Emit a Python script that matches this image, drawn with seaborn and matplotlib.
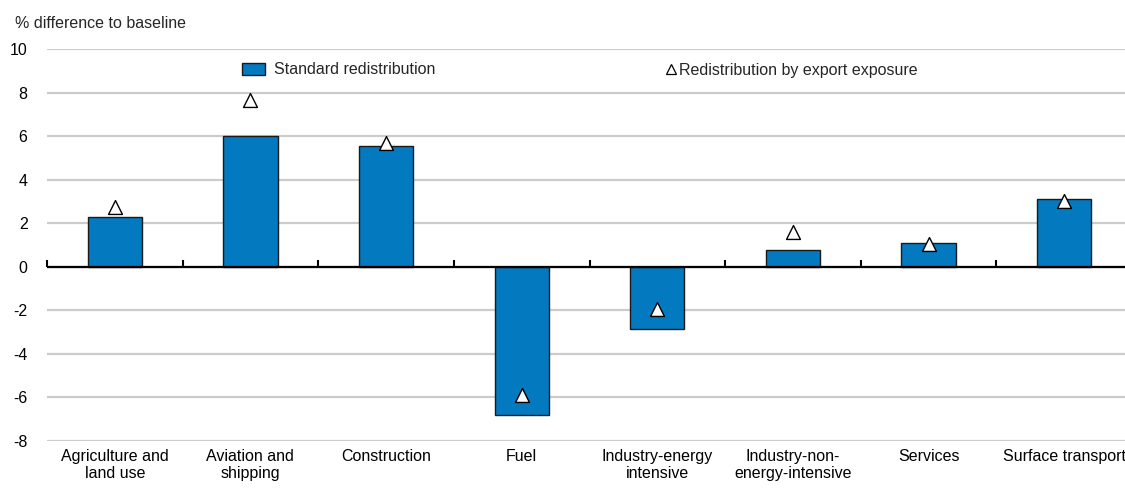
import matplotlib
matplotlib.use("Agg")
import matplotlib.pyplot as plt
from matplotlib.lines import Line2D
from matplotlib.patches import Patch
from matplotlib import font_manager
import seaborn as sns

sectors = ["Agriculture and\nland use", "Aviation and\nshipping", "Construction", "Fuel",
           "Industry-energy\nintensive", "Industry-non-\nenergy-intensive", "Services",
           "Surface transport"]
standard = [2.28, 6.0, 5.56, -6.8, -2.86, 0.75, 1.08, 3.12]
export_exposure = [2.76, 7.68, 5.68, -5.91, -1.95, 1.61, 1.03, 3.04]
y_ticks = [-8, -6, -4, -2, 0, 2, 4, 6, 8, 10]

names = {f.name for f in font_manager.fontManager.ttflist}
narrow = "Liberation Sans Narrow" in names

sns.set_style("white")
plt.rcParams["font.family"] = (["Liberation Sans Narrow"] if narrow else []) + ["Liberation Sans", "DejaVu Sans"]
plt.rcParams["axes.unicode_minus"] = False
fs = 13.8 if narrow else 11.5

fig = plt.figure(figsize=(11.25, 4.9), dpi=100)
ax = fig.add_axes([47 / 1125, 49 / 490, 1085 / 1125, 392 / 490])

blue = "#0379bf"
sns.barplot(x=sectors, y=standard, order=sectors, color=blue, width=0.4,
            edgecolor="#1a1a1a", linewidth=1, saturation=1, ax=ax, zorder=3)
sns.stripplot(x=sectors, y=export_exposure, order=sectors, jitter=False, marker="^",
              size=10, color="white", edgecolor="black", linewidth=1, ax=ax, zorder=4)

ax.set_xlim(-0.5, len(sectors) - 0.5)
ax.set_ylim(-8, 10)
ax.set_yticks(y_ticks)
ax.yaxis.grid(True, color="#cccccc", linewidth=1.6)
ax.set_axisbelow(True)
for s in ax.spines.values():
    s.set_visible(False)
ax.tick_params(axis="both", length=0, labelsize=fs, colors="black")
ax.tick_params(axis="y", pad=14)
ax.tick_params(axis="x", pad=6)
for lab in ax.get_xticklabels():
    lab.set_linespacing(1.1)

# zero line with small ticks at category boundaries
ax.axhline(0, color="black", linewidth=1.6, zorder=5)
zero_ax = ax.secondary_xaxis((0 - (-8)) / 18)
zero_ax.set_xticks([i + 0.5 for i in range(-1, len(sectors))])
zero_ax.set_xticklabels([])
zero_ax.tick_params(direction="in", length=5, width=1.5, color="black")
zero_ax.spines["bottom"].set_visible(False)
zero_ax.spines["top"].set_visible(False)

fig.text(15 / 1125, 1 - 24 / 490, "% difference to baseline", fontsize=fs, va="center")

leg1 = ax.legend(handles=[Patch(facecolor=blue, edgecolor="#1a1a1a", linewidth=1)],
                 labels=["Standard redistribution"], loc="center left",
                 bbox_to_anchor=(242 / 1125, 1 - 70 / 490), bbox_transform=fig.transFigure,
                 frameon=False, fontsize=fs, borderpad=0, borderaxespad=0,
                 handlelength=1.45, handleheight=0.72, handletextpad=0.58)
ax.add_artist(leg1)
ax.legend(handles=[Line2D([], [], marker="^", linestyle="none", markersize=6.5,
                          markerfacecolor="white", markeredgecolor="black", markeredgewidth=0.9)],
          labels=["Redistribution by export exposure"], loc="center left",
          bbox_to_anchor=(667 / 1125, 1 - 70 / 490), bbox_transform=fig.transFigure,
          frameon=False, fontsize=fs, borderpad=0, borderaxespad=0,
          handlelength=0.5, handletextpad=0.25)

fig.savefig("out.png", dpi=100)
plt.close(fig)
